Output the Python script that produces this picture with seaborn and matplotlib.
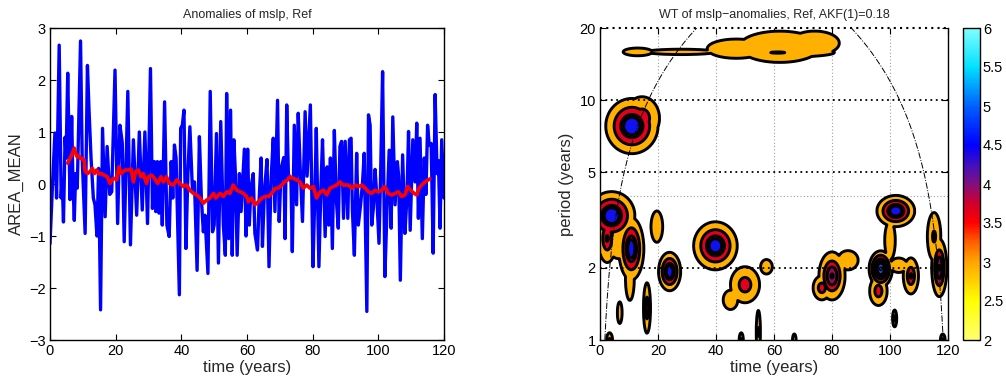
import matplotlib
matplotlib.use("Agg")
import matplotlib.pyplot as plt
import numpy as np
import pandas as pd
import seaborn as sns
from matplotlib.cm import ScalarMappable
from matplotlib.colors import LinearSegmentedColormap, Normalize
from matplotlib.ticker import FixedLocator, NullLocator

# anomaly series (time in years, value)
anomaly_time = [
    0.0, 0.7, 1.5, 2.0, 2.8, 3.4, 3.7, 4.1, 4.6, 4.9, 5.4, 6.1, 6.6, 7.0, 7.4, 7.8,
    8.3, 9.3, 9.8, 10.7, 11.4, 11.9, 12.5, 13.2, 13.7, 14.3, 14.8, 15.4, 16.0, 16.8,
    17.4, 18.2, 18.8, 19.8, 20.6, 21.3, 22.0, 22.6, 23.7, 24.5, 25.4, 26.4, 27.2,
    28.1, 28.9, 29.7, 30.6,
    31.2, 31.8, 32.2, 32.7, 33.2, 33.7, 34.2, 34.9, 35.6, 36.3, 36.9, 37.4, 37.9,
    38.4, 39.4, 39.8, 40.3, 40.8, 41.4, 42.0, 42.6, 43.4, 44.0, 44.8, 45.5, 46.1,
    46.7, 47.2, 48.1, 48.8, 49.5, 50.0, 50.7, 51.3, 52.0, 52.8, 53.4, 53.8, 54.4,
    55.0, 55.5, 56.0, 56.5, 57.0, 57.7, 58.2, 58.8, 59.2,
    59.7, 60.2, 60.7, 61.2, 61.9, 62.4, 63.2, 63.7, 64.3, 64.7, 65.3, 66.1, 66.7,
    67.3, 68.0, 68.5, 69.3, 69.8, 70.4, 71.2, 71.6, 72.1, 72.6, 73.4, 73.8, 74.4,
    75.1, 75.6, 76.2, 76.9, 77.7, 78.3, 79.3, 80.1, 80.7, 81.1, 81.9, 82.5, 83.0,
    83.8, 84.4, 84.9, 85.4, 86.0, 86.6, 87.2, 87.8, 88.3, 88.8, 89.4, 89.9,
    90.7, 91.2, 91.7, 92.1, 92.7, 93.4, 93.9, 94.6, 95.2, 95.7, 96.5, 97.0, 97.5,
    98.0, 98.5, 99.0, 99.5, 100.2, 100.7, 101.3, 102.0, 102.6, 103.3, 103.9, 104.4,
    105.1, 105.8, 106.2, 106.7, 107.4, 108.1, 108.7, 109.2, 109.7, 110.5, 111.2,
    111.7, 112.2, 112.7, 113.4, 114.0, 114.5, 115.0, 115.5, 116.1, 116.7, 117.3,
    117.9, 118.3, 118.8, 119.3, 120.0,
]
anomaly_value = [
    -1.15, -0.1, 0.98, -0.27, 2.67, -0.27, 0.1, -0.73, 0.9, 0.5, 2.13, -0.3, 1.3, 0.0,
    -0.7, 0.2, -0.08, 2.75, 0.5, -0.95, 2.28, 1.4, 0.5, -0.27, -0.4, -1.0, 0.3, -2.42,
    1.07, -0.63, 0.72, -0.2, -0.15, 2.19, -0.76, 1.13, 0.8, -1.11, 1.78, -1.17, 0.85,
    -0.6, 1.0, -0.5, 1.0, -0.76, 2.22,
    -0.47, 0.43, -0.53, 0.43, -0.56, 0.43, -0.79, 1.58, -0.79, -1.01, 0.43, -0.27,
    0.75, 0.5, -2.13, 1.07, 1.13, 1.42, -1.24, 0.2, 1.1, -0.15, 0.04, -1.66, 0.91,
    -0.27, -0.92, -0.6, -1.72, 1.78, -0.92, -0.79, 0.97, -1.52, 1.2, -0.79, -1.37,
    1.74, -1.05, 1.42, -1.37, 0.85, 0.15, -1.37, 0.2, -0.53, 0.2, 0.67,
    -1.0, 0.67, -0.79, -0.08, 0.2, -0.95, -1.27, -0.3, 0.5, -1.2, -0.15, 0.47, -1.59,
    0.04, 0.88, -0.53, 1.61, -0.72, 0.3, 0.51, -1.05, 1.52, 0.2, 0.04, -1.3, 1.13,
    -0.4, 1.36, 0.3, -0.72, 1.39, 0.15, 1.52, -1.59, -0.1, 1.07, -1.59, -0.08, 0.85,
    -1.01, 0.33, -0.79, 0.5, -1.24, 1.03, -0.3, -0.85, 0.72, 0.82, -0.66, 0.82,
    -0.66, 0.85, 0.88, -0.5, -1.37, 0.59, -0.79, -0.4, 0.04, 0.59, -2.45, 1.33, 1.13,
    -0.79, -0.45, 0.28, -0.2, -1.14, 0.2, 2.16, -1.78, -0.56, 0.65, -0.85, 1.29,
    -0.4, 0.43, 0.14, -1.85, 0.56, -0.95, -0.27, 1.01, -0.89, 0.85, 0.04, 1.17,
    -0.66, 0.88, -1.05, 0.5, -0.2, 1.13, 0.75, 0.78, -1.33, 1.72, 0.2, 0.45, -0.85,
    0.85, -0.27,
]

# running mean (red line)
mean_time = [
    5.4, 6.1, 6.8, 7.4, 7.8, 8.3, 8.8, 9.3, 9.8, 10.4, 10.7, 11.4, 12.2, 12.9, 13.5,
    14.2, 14.9, 15.7, 16.5, 17.4, 18.3, 18.8, 19.5, 20.3, 21.0, 21.6, 22.3, 23.0,
    23.9, 24.7, 25.4, 26.1, 26.9, 27.7, 28.4, 29.4, 30.0, 31.0, 31.8, 32.8, 33.8,
    34.5, 35.5, 36.3, 37.6, 38.6, 39.6, 40.6, 41.6, 42.6, 43.7, 44.7, 45.7, 46.7,
    47.7, 48.7, 49.8, 50.5, 51.8, 52.8, 53.8, 54.8, 55.8, 56.9, 57.9, 58.9, 59.9,
    60.4, 61.4, 62.4, 63.5, 64.5, 65.5, 66.5, 67.5, 68.7, 69.5, 70.6, 71.4, 72.4,
    73.1, 74.1, 75.1, 76.1, 77.2, 78.2, 79.2, 80.2, 81.2, 82.3, 83.3, 84.3, 85.3,
    86.3, 87.3, 88.3, 89.3, 90.9, 91.9, 93.0, 94.0, 95.0, 96.0, 97.0, 98.0, 99.0,
    100.0, 101.0, 102.0, 103.0, 104.1, 105.1, 106.1, 107.1, 108.1, 108.9, 109.9,
    110.9, 111.7, 112.4, 113.2, 114.2, 115.2, 115.7,
]
mean_value = [
    0.40, 0.49, 0.59, 0.69, 0.59, 0.52, 0.54, 0.49, 0.49, 0.46, 0.24, 0.20, 0.24,
    0.30, 0.20, 0.27, 0.19, 0.20, 0.17, 0.14, 0.01, 0.08, 0.11, 0.08, 0.33, 0.20,
    0.24, 0.27, 0.27, 0.29, 0.04, 0.24, 0.27, 0.14, 0.20, 0.01, 0.14, 0.17, 0.11,
    0.01, 0.14, 0.04, 0.14, 0.01, -0.02, 0.08, 0.01, -0.05, -0.02, -0.12, -0.18,
    -0.21, -0.27, -0.37, -0.31, -0.27, -0.18, -0.27, -0.18, -0.24, -0.15, -0.18,
    -0.02, -0.12, -0.15, -0.18, -0.24,
    -0.34, -0.27, -0.40, -0.34, -0.27, -0.24, -0.24, -0.18, -0.08, -0.08, -0.02,
    0.04, 0.08, 0.14, 0.11, 0.08, 0.04, -0.08, -0.02, -0.08, -0.05, -0.27, -0.15,
    -0.12, -0.21, -0.08, -0.05, -0.02, 0.04, -0.02, -0.02, -0.08, -0.02, -0.05,
    -0.02, -0.08, -0.15, -0.18, -0.12, -0.15, -0.12, -0.05, -0.18, -0.21, -0.18,
    -0.15, -0.24, -0.21, -0.05, -0.12, -0.18, -0.21, -0.08, -0.02, 0.04, 0.08, 0.10,
]

# wavelet power patches: centre time, centre period, peak power,
# half extent (years / log10 period) of the outer contour
blob_time = [11.0, 14.5, 4.0, 2.5, 6.5, 10.8, 10.3, 19.6, 24.0, 16.2, 6.8, 3.3,
             39.8, 50.0, 45.0, 57.4, 54.6, 48.7, 67.0, 80.0, 85.5, 76.5, 96.8,
             96.0, 102.0, 100.0, 103.0, 107.2, 101.6, 115.2, 117.0, 118.2,
             47.0, 62.0, 74.0, 61.3, 13.0, 28.0]
blob_period = [7.8, 8.4, 3.3, 2.65, 2.45, 2.4, 1.8, 2.97, 1.93, 1.36, 1.3, 1.0,
               2.47, 1.7, 1.47, 2.02, 1.08, 1.0, 1.0, 1.85, 2.15, 1.65, 1.98,
               1.6, 3.45, 2.6, 2.05, 1.85, 1.23, 2.7, 2.0, 1.0,
               16.4, 16.7, 17.3, 15.8, 15.9, 15.9]
blob_peak = [4.95, 4.0, 4.98, 4.1, 3.3, 4.9, 3.4, 3.3, 4.95, 4.0, 3.15, 3.6,
             4.9, 3.9, 3.3, 3.2, 3.6, 3.6, 3.4, 4.6, 3.2, 3.9, 5.6,
             3.9, 4.95, 3.3, 3.2, 4.1, 3.7, 3.6, 4.6, 3.6,
             3.25, 3.4, 3.3, 3.55, 3.2, 3.1]
blob_half_t = [9.0, 6.0, 8.0, 3.2, 3.5, 4.3, 1.5, 2.0, 3.8, 1.2, 0.8, 1.0,
               7.5, 5.0, 2.5, 2.0, 0.7, 0.7, 0.6, 4.5, 3.5, 3.0, 4.0,
               3.0, 6.5, 1.8, 3.0, 2.6, 0.7, 2.3, 2.6, 0.8,
               10.0, 14.0, 8.5, 19.5, 5.0, 12.0]
blob_half_lp = [0.115, 0.09, 0.10, 0.10, 0.05, 0.13, 0.09, 0.065, 0.08, 0.105,
                0.045, 0.03, 0.10, 0.075, 0.04, 0.03, 0.09, 0.03, 0.025, 0.10,
                0.04, 0.05, 0.075, 0.06, 0.065, 0.08, 0.03, 0.075, 0.035, 0.10,
                0.12, 0.025, 0.04, 0.065, 0.05, 0.02, 0.016, 0.011]

# radial profile of a patch (fraction of peak above 3 vs. relative radius)
profile_r = [0.0, 0.32, 0.42, 0.68, 1.0, 3.0]
profile_f = [1.0, 0.769, 0.513, 0.256, 0.0, -1.0]

power_levels = [3.0, 3.5, 4.0, 4.5, 5.0, 5.5]
fill_colors = ["#ffb000", "#e2001c", "#8a1050", "#1010f0", "#1850ff", "#40e8ff"]
coi_factor = 0.6

sns.set_theme(style="ticks")
plt.rcParams["font.family"] = ["Liberation Sans", "DejaVu Sans"]
plt.rcParams["axes.edgecolor"] = "black"
plt.rcParams["axes.linewidth"] = 1.0

fig = plt.figure(figsize=(10.06, 3.80), dpi=100)
W, H = 1006.0, 380.0


def style_box(ax):
    ax.tick_params(direction="in", top=True, right=True, length=4,
                   width=0.8, colors="black", labelsize=10.5, pad=3)


# ---- left panel: time series ----
ax1 = fig.add_axes([50 / W, 40 / H, 394 / W, 312 / H])
df_anom = pd.DataFrame({"time": anomaly_time, "value": anomaly_value})
df_mean = pd.DataFrame({"time": mean_time, "value": mean_value})
sns.lineplot(data=df_anom, x="time", y="value", ax=ax1, color="#0000ff",
             linewidth=2.4, sort=False, estimator=None)
sns.lineplot(data=df_mean, x="time", y="value", ax=ax1, color="#ff0000",
             linewidth=2.6, sort=False, estimator=None)
ax1.set_xlim(0, 120)
ax1.set_ylim(-3, 3)
ax1.set_xticks(range(0, 121, 20))
ax1.set_yticks(range(-3, 4))
style_box(ax1)
ax1.set_xlabel("time (years)", fontsize=12, labelpad=1)
ax1.set_ylabel("AREA_MEAN", fontsize=12, labelpad=4)
ax1.set_title("Anomalies of mslp, Ref", fontsize=9, pad=7)

# ---- right panel: wavelet power ----
ax2 = fig.add_axes([600 / W, 40 / H, 348 / W, 312 / H])
tt = np.linspace(0, 120, 721)
lp = np.linspace(0, np.log10(20), 900)
TT, LP = np.meshgrid(tt, lp)
power = np.zeros_like(TT)
for t0, p0, peak, ht, hp in zip(blob_time, blob_period, blob_peak,
                                blob_half_t, blob_half_lp):
    r = np.hypot((TT - t0) / ht, (LP - np.log10(p0)) / hp)
    frac = np.interp(r, profile_r, profile_f)
    power = np.maximum(power, 3.0 + (peak - 3.0) * frac)
PP = 10 ** LP
ax2.contourf(TT, PP, power, levels=power_levels + [8.0], colors=fill_colors)
ax2.contour(TT, PP, power, levels=power_levels, colors="black", linewidths=2.1)

coi = coi_factor * np.minimum(tt, 120 - tt)
ax2.plot(tt, coi, color="black", linestyle="-.", linewidth=0.7)

ax2.set_yscale("log")
ax2.set_xlim(0, 120)
ax2.set_ylim(1, 20)
ax2.yaxis.set_major_locator(FixedLocator([1, 2, 5, 10, 20]))
ax2.yaxis.set_minor_locator(NullLocator())
ax2.set_yticklabels(["1", "2", "5", "10", "20"])
ax2.set_xticks(range(0, 121, 20))
for x in range(20, 120, 20):
    ax2.axvline(x, color="#a0a0a0", linestyle=(0, (1, 2)), linewidth=0.8, zorder=0.5)
for y in [2, 5, 10]:
    ax2.axhline(y, color="black", linestyle=(0, (1, 2)), linewidth=1.3, zorder=3)
ax2.axhline(4, color="#a0a0a0", linestyle=(0, (1, 2)), linewidth=0.8, zorder=0.5)
ax2.axhline(20, color="black", linestyle=(0, (1, 2)), linewidth=1.5, zorder=3,
            clip_on=False)
ax2.spines["top"].set_visible(False)
style_box(ax2)
ax2.set_xlabel("time (years)", fontsize=12, labelpad=1)
ax2.set_ylabel("period (years)", fontsize=12, labelpad=4)
ax2.set_title("WT of mslp\u2212anomalies, Ref, AKF(1)=0.18", fontsize=9, pad=7)

# ---- colorbar ----
cbar_colors = [
    (0.0, "#ffff70"), (0.125, "#ffff00"), (0.1875, "#ffd000"), (0.25, "#ffa500"),
    (0.3125, "#ff6000"), (0.375, "#ff0000"), (0.4375, "#d0002a"), (0.5, "#801080"),
    (0.5625, "#4010c0"), (0.625, "#0000ff"), (0.75, "#0060ff"), (0.8125, "#00a0ff"),
    (0.875, "#00e0ff"), (1.0, "#80ffff"),
]
cmap = LinearSegmentedColormap.from_list("wt", cbar_colors)
cax = fig.add_axes([963 / W, 40 / H, 17 / W, 312 / H])
sm = ScalarMappable(norm=Normalize(2, 6), cmap=cmap)
cb = fig.colorbar(sm, cax=cax, ticks=np.arange(2, 6.01, 0.5))
cb.ax.set_yticklabels(["2", "2.5", "3", "3.5", "4", "4.5", "5", "5.5", "6"])
cb.ax.tick_params(direction="in", length=3, width=0.8, labelsize=10.5, pad=2,
                  colors="black")
cb.outline.set_edgecolor("black")
cb.outline.set_linewidth(1.0)

fig.savefig("out.png", dpi=100)
